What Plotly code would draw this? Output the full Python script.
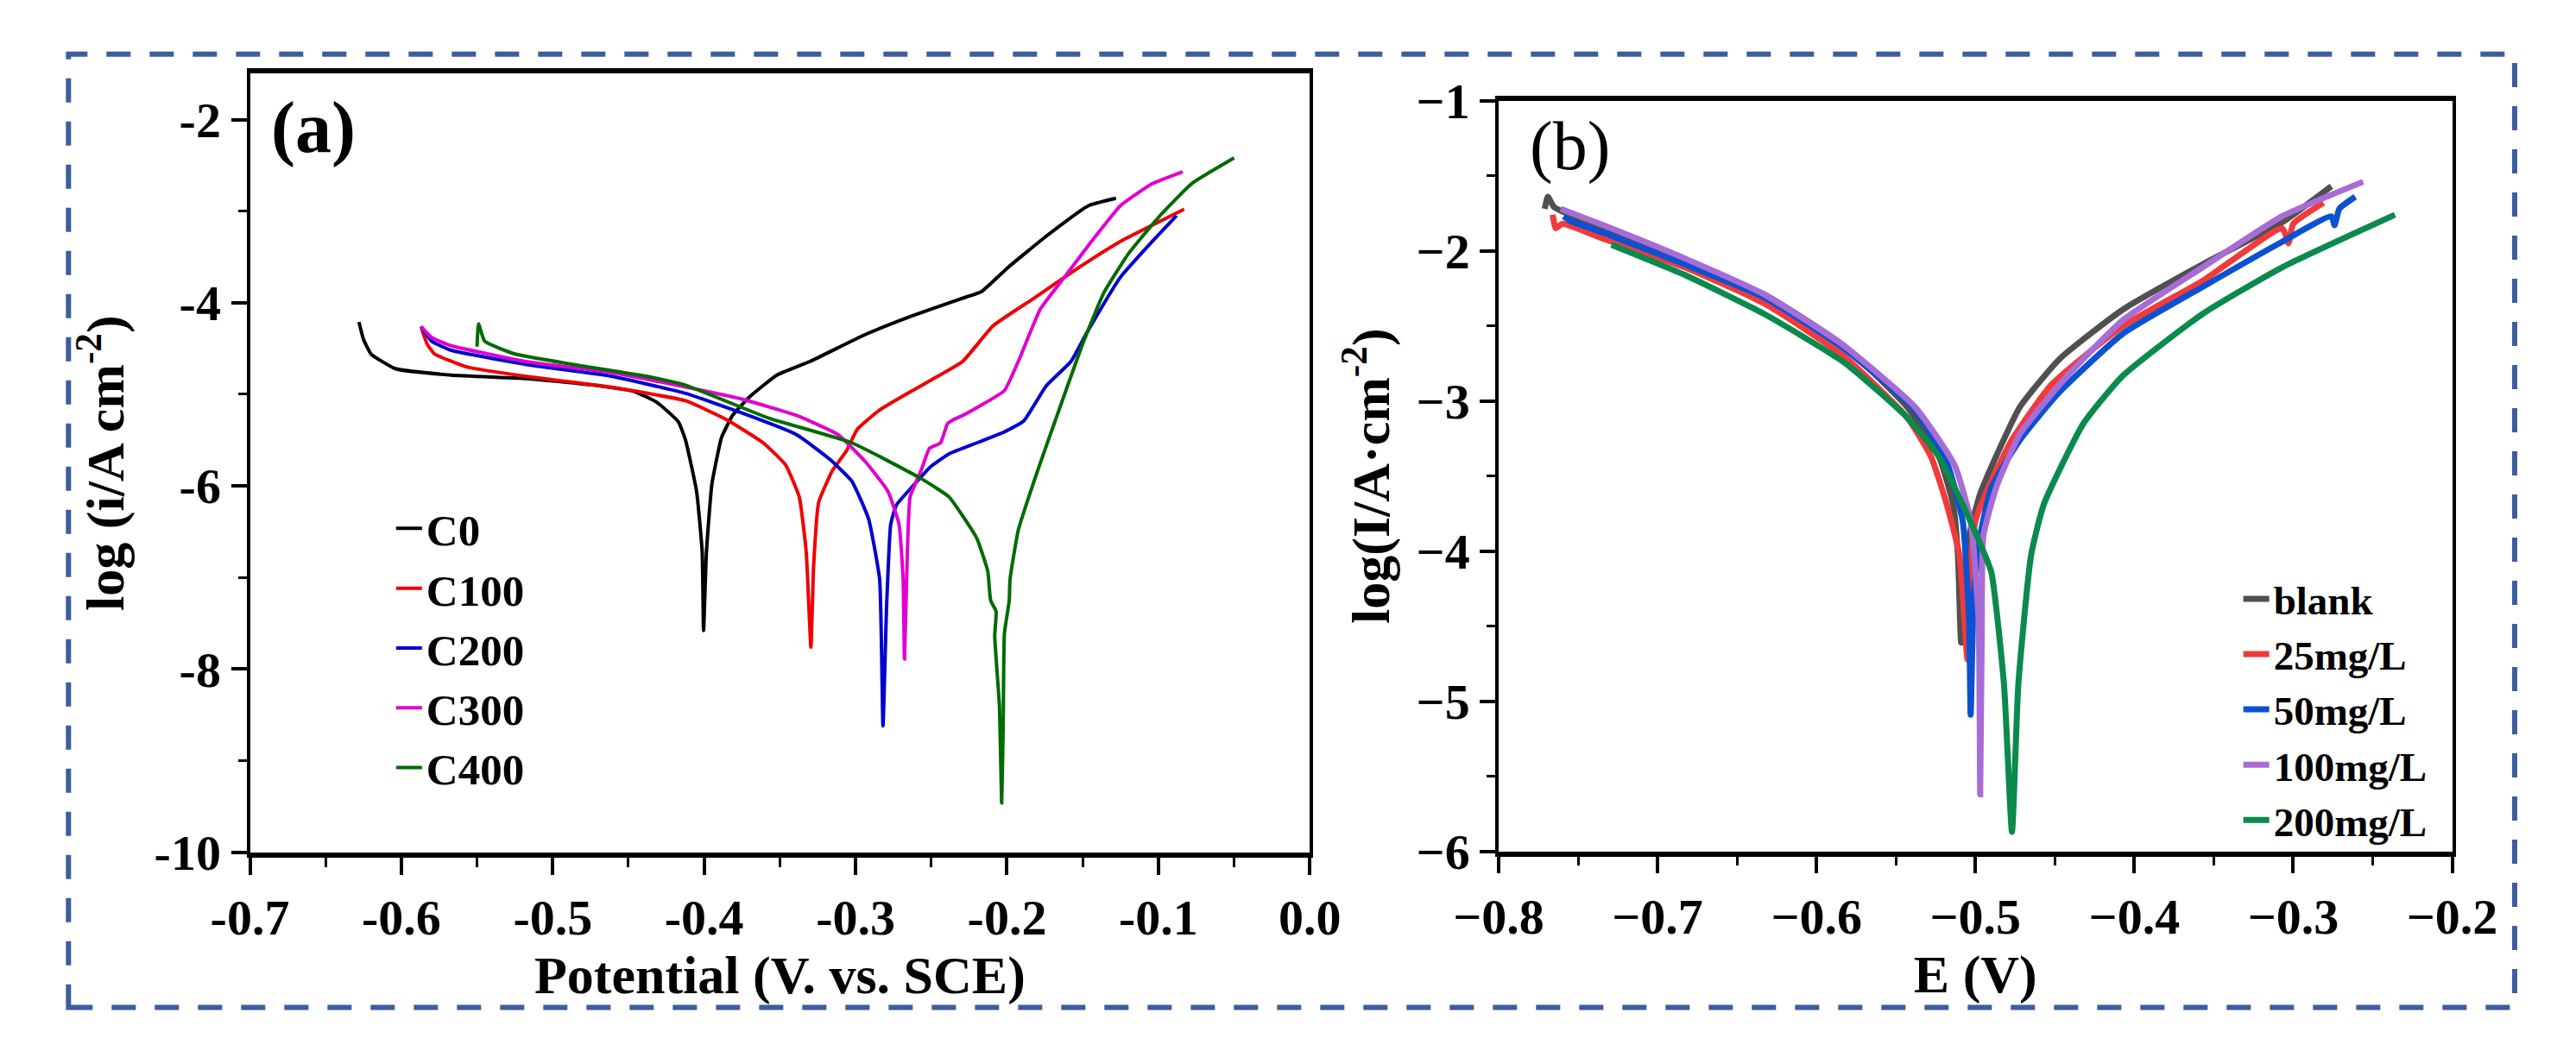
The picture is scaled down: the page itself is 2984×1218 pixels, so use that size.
import plotly.graph_objects as go

# ---- panel (a): log(i) vs potential (V vs SCE) ----
c0_x = [-0.628, -0.625, -0.620, -0.604, -0.567, -0.515, -0.473, -0.446, -0.431, -0.417,
        -0.4123, -0.405, -0.4013, -0.4004, -0.3985, -0.3949, -0.3885, -0.3812, -0.3702,
        -0.352, -0.330, -0.294, -0.262, -0.231, -0.217, -0.199, -0.173, -0.146, -0.128]
c0_y = [-4.21, -4.40, -4.56, -4.72, -4.79, -4.83, -4.90, -4.97, -5.09, -5.30,
        -5.50, -6.06, -6.72, -7.58, -6.72, -5.98, -5.47, -5.23, -5.03,
        -4.79, -4.64, -4.35, -4.14, -3.96, -3.88, -3.61, -3.26, -2.94, -2.86]

c100_x = [-0.587, -0.583, -0.578, -0.557, -0.515, -0.462, -0.4123, -0.3848, -0.361, -0.3463,
          -0.3372, -0.3326, -0.3295, -0.3277, -0.3244, -0.3152, -0.3061, -0.2988, -0.2841,
          -0.2658, -0.2475, -0.2292, -0.209, -0.183, -0.152, -0.125, -0.083]
c100_y = [-4.26, -4.45, -4.56, -4.70, -4.81, -4.92, -5.07, -5.28, -5.53, -5.77,
          -6.12, -6.72, -7.76, -6.87, -6.18, -5.83, -5.62, -5.38, -5.17,
          -4.99, -4.82, -4.64, -4.25, -3.96, -3.61, -3.33, -2.98]

c200_x = [-0.587, -0.580, -0.567, -0.515, -0.462, -0.4123, -0.3757, -0.339, -0.317, -0.3024,
          -0.2914, -0.2841, -0.2819, -0.2795, -0.2768, -0.2731, -0.2621, -0.2511, -0.2383,
          -0.220, -0.2017, -0.1889, -0.1742, -0.1577, -0.147, -0.125, -0.104, -0.088]
c200_y = [-4.26, -4.42, -4.52, -4.68, -4.80, -4.99, -5.20, -5.44, -5.71, -5.95,
          -6.36, -7.02, -8.62, -7.31, -6.42, -6.21, -6.00, -5.80, -5.65,
          -5.53, -5.41, -5.29, -4.91, -4.64, -4.32, -3.72, -3.33, -3.05]

c300_x = [-0.587, -0.580, -0.567, -0.515, -0.462, -0.4123, -0.3757, -0.339, -0.3116, -0.2933,
          -0.2786, -0.2713, -0.2686, -0.2677, -0.2658, -0.264, -0.2567, -0.2512, -0.2439,
          -0.2393, -0.2357, -0.2292, -0.2182, -0.2017, -0.1925, -0.178, -0.162, -0.146,
          -0.125, -0.104, -0.084]
c300_y = [-4.26, -4.38, -4.47, -4.65, -4.76, -4.92, -5.05, -5.23, -5.44, -5.74,
          -6.06, -6.42, -7.02, -7.89, -6.72, -6.12, -5.83, -5.59, -5.53,
          -5.32, -5.28, -5.23, -5.13, -4.96, -4.64, -4.07, -3.72, -3.37,
          -2.94, -2.70, -2.57]

c400_x = [-0.550, -0.549, -0.545, -0.525, -0.488, -0.436, -0.4123, -0.3573, -0.3024, -0.2567,
          -0.2383, -0.220, -0.2127, -0.2108, -0.2072, -0.2081, -0.2050, -0.2035, -0.2025,
          -0.2017, -0.1985, -0.1980, -0.1925, -0.1797, -0.1669, -0.150, -0.136, -0.120,
          -0.099, -0.078, -0.050]
c400_y = [-4.48, -4.23, -4.42, -4.56, -4.67, -4.81, -4.90, -5.26, -5.53, -5.92,
          -6.12, -6.57, -6.93, -7.25, -7.37, -7.64, -8.40, -9.46, -8.60,
          -7.61, -7.25, -7.02, -6.48, -5.83, -5.23, -4.45, -3.89, -3.47,
          -3.05, -2.70, -2.42]

names_a = ["C0", "C100", "C200", "C300", "C400"]
colors_a = ["#000000", "#f00000", "#0000d0", "#e000d0", "#006b00"]
series_a = [(c0_x, c0_y), (c100_x, c100_y), (c200_x, c200_y), (c300_x, c300_y), (c400_x, c400_y)]

xticks_a = [-0.7, -0.6, -0.5, -0.4, -0.3, -0.2, -0.1, 0.0]
xticklabels_a = ["-0.7", "-0.6", "-0.5", "-0.4", "-0.3", "-0.2", "-0.1", "0.0"]
yticks_a = [-10, -8, -6, -4, -2]
yticklabels_a = ["-10", "-8", "-6", "-4", "-2"]

# ---- panel (b): log(I) vs E ----
blank_x = [-0.771, -0.769, -0.765, -0.734, -0.683, -0.633, -0.583, -0.543, -0.523, -0.514,
           -0.511, -0.509, -0.506, -0.503, -0.497, -0.487, -0.472, -0.447, -0.407, -0.357,
           -0.307, -0.276]
blank_y = [-1.72, -1.64, -1.71, -1.85, -2.07, -2.29, -2.63, -3.04, -3.37, -3.69,
           -4.03, -4.61, -4.10, -3.85, -3.62, -3.37, -3.04, -2.72, -2.39, -2.09,
           -1.81, -1.57]

mg25_x = [-0.766, -0.764, -0.760, -0.734, -0.683, -0.633, -0.583, -0.543, -0.528, -0.518,
          -0.510, -0.505, -0.503, -0.500, -0.492, -0.477, -0.452, -0.407, -0.357, -0.307,
          -0.303, -0.300, -0.281]
mg25_y = [-1.76, -1.85, -1.82, -1.92, -2.11, -2.35, -2.70, -3.11, -3.37, -3.69,
          -4.03, -4.72, -4.10, -3.80, -3.58, -3.26, -2.89, -2.50, -2.20, -1.85,
          -1.95, -1.82, -1.68]

mg50_x = [-0.759, -0.755, -0.734, -0.683, -0.633, -0.583, -0.538, -0.518, -0.508, -0.504,
          -0.503, -0.501, -0.497, -0.490, -0.472, -0.447, -0.407, -0.357, -0.307, -0.276,
          -0.274, -0.271, -0.261]
mg50_y = [-1.77, -1.80, -1.88, -2.09, -2.31, -2.65, -3.06, -3.41, -3.80, -4.46,
          -5.09, -4.30, -3.90, -3.58, -3.26, -2.94, -2.55, -2.24, -1.94, -1.77,
          -1.83, -1.72, -1.64]

mg100_x = [-0.761, -0.734, -0.683, -0.633, -0.583, -0.538, -0.513, -0.503, -0.498, -0.497,
           -0.496, -0.495, -0.487, -0.472, -0.442, -0.407, -0.357, -0.307, -0.256]
mg100_y = [-1.72, -1.83, -2.05, -2.29, -2.63, -3.04, -3.43, -3.80, -4.46, -5.62,
           -4.50, -3.90, -3.58, -3.22, -2.83, -2.46, -2.11, -1.77, -1.54]

mg200_x = [-0.729, -0.683, -0.633, -0.583, -0.543, -0.523, -0.508, -0.497, -0.490, -0.482,
           -0.477, -0.473, -0.465, -0.457, -0.432, -0.407, -0.357, -0.307, -0.236]
mg200_y = [-1.96, -2.16, -2.42, -2.74, -3.11, -3.37, -3.69, -3.95, -4.14, -4.89,
           -5.87, -4.89, -4.03, -3.69, -3.15, -2.83, -2.42, -2.11, -1.76]

names_b = ["blank", "25mg/L", "50mg/L", "100mg/L", "200mg/L"]
colors_b = ["#505050", "#f23a3a", "#0a52d2", "#a86cd6", "#0a8a4c"]
series_b = [(blank_x, blank_y), (mg25_x, mg25_y), (mg50_x, mg50_y),
            (mg100_x, mg100_y), (mg200_x, mg200_y)]

SERIF = "Liberation Serif"

fig = go.Figure()

for name, col, (xs, ys) in zip(names_a, colors_a, series_a):
    fig.add_trace(go.Scatter(x=xs, y=ys, mode="lines", name=name,
                             line=dict(color=col, width=4, shape="spline", smoothing=0.4),
                             xaxis="x", yaxis="y", legend="legend"))

for name, col, (xs, ys) in zip(names_b, colors_b, series_b):
    fig.add_trace(go.Scatter(x=xs, y=ys, mode="lines", name=name,
                             line=dict(color=col, width=7, shape="spline", smoothing=0.5),
                             xaxis="x2", yaxis="y2", legend="legend2"))

tickfont = dict(family=SERIF, size=58, color="black", weight="bold")
titlefont = dict(family=SERIF, size=62, color="black", weight="bold")

fig.update_layout(
    width=2984, height=1218, autosize=False,
    margin=dict(l=0, r=0, t=0, b=0),
    paper_bgcolor="white", plot_bgcolor="white",
    xaxis=dict(domain=[0.0794, 0.506], range=[-0.7, 0.0],
               tickmode="array", tickvals=xticks_a, ticktext=xticklabels_a,
               ticks="outside", ticklen=20, tickwidth=4, tickcolor="black",
               minor=dict(ticks="outside", ticklen=11, tickwidth=3, tickcolor="black",
                          tick0=0, dtick=0.05),
               showline=True, linewidth=6, linecolor="black", mirror=True,
               showgrid=False, zeroline=False, tickfont=tickfont,
               title=dict(text="Potential (V. vs. SCE)", font=titlefont, standoff=14),
               anchor="y"),
    yaxis=dict(domain=[0.178, 0.9606], range=[-10, -1.5],
               tickmode="array", tickvals=yticks_a, ticktext=yticklabels_a,
               ticks="outside", ticklen=18, tickwidth=4, tickcolor="black",
               minor=dict(ticks="outside", ticklen=10, tickwidth=3, tickcolor="black",
                          tick0=0, dtick=1),
               showline=True, linewidth=4, linecolor="black", mirror=True,
               showgrid=False, zeroline=False, tickfont=tickfont,
               title=dict(text="log (i/A cm<sup>-2</sup>)", font=titlefont, standoff=16),
               anchor="x"),
    xaxis2=dict(domain=[0.582, 0.9658], range=[-0.8, -0.2],
                tickmode="linear", tick0=-0.8, dtick=0.1, tickformat=".1f",
                ticks="outside", ticklen=20, tickwidth=4, tickcolor="black",
                minor=dict(ticks="outside", ticklen=11, tickwidth=3, tickcolor="black",
                           tick0=0, dtick=0.05),
                showline=True, linewidth=5.5, linecolor="black", mirror=True,
                showgrid=False, zeroline=False, tickfont=tickfont,
                title=dict(text="E (V)", font=titlefont, standoff=14),
                anchor="y2"),
    yaxis2=dict(domain=[0.179, 0.9335], range=[-6, -1],
                tickmode="linear", tick0=-6, dtick=1,
                ticks="outside", ticklen=18, tickwidth=4, tickcolor="black",
                minor=dict(ticks="outside", ticklen=10, tickwidth=3, tickcolor="black",
                           tick0=0, dtick=0.5),
                showline=True, linewidth=3.5, linecolor="black", mirror=True,
                showgrid=False, zeroline=False, tickfont=tickfont,
                title=dict(text="log(I/A·cm<sup>-2</sup>)", font=titlefont, standoff=12),
                anchor="x2"),
    legend=dict(x=0.1365, y=0.538, xanchor="left", yanchor="top",
                bgcolor="rgba(0,0,0,0)", borderwidth=0,
                font=dict(family=SERIF, size=51, color="black", weight="bold"),
                tracegroupgap=0, itemwidth=30),
    legend2=dict(x=0.880, y=0.465, xanchor="left", yanchor="top",
                 bgcolor="rgba(0,0,0,0)", borderwidth=0,
                 font=dict(family=SERIF, size=47, color="black", weight="bold"),
                 tracegroupgap=0, itemwidth=30),
    showlegend=True,
)

fig.add_annotation(text="(a)", x=0.1049, y=0.906, xref="paper", yref="paper",
                   xanchor="center", yanchor="middle", showarrow=False,
                   font=dict(family=SERIF, size=84, color="black", weight="bold"))
fig.add_annotation(text="(b)", x=0.6106, y=0.888, xref="paper", yref="paper",
                   xanchor="center", yanchor="middle", showarrow=False,
                   font=dict(family=SERIF, size=80, color="black"))

# dashed blue frame around the whole figure
fig.add_shape(type="rect", xref="paper", yref="paper",
              x0=19 / 2984, x1=2957 / 2984, y0=1 - 1191 / 1218, y1=1 - 24 / 1218,
              line=dict(color="#3c5d9e", width=6, dash="28px,22px"))

fig.write_html("out.html")
